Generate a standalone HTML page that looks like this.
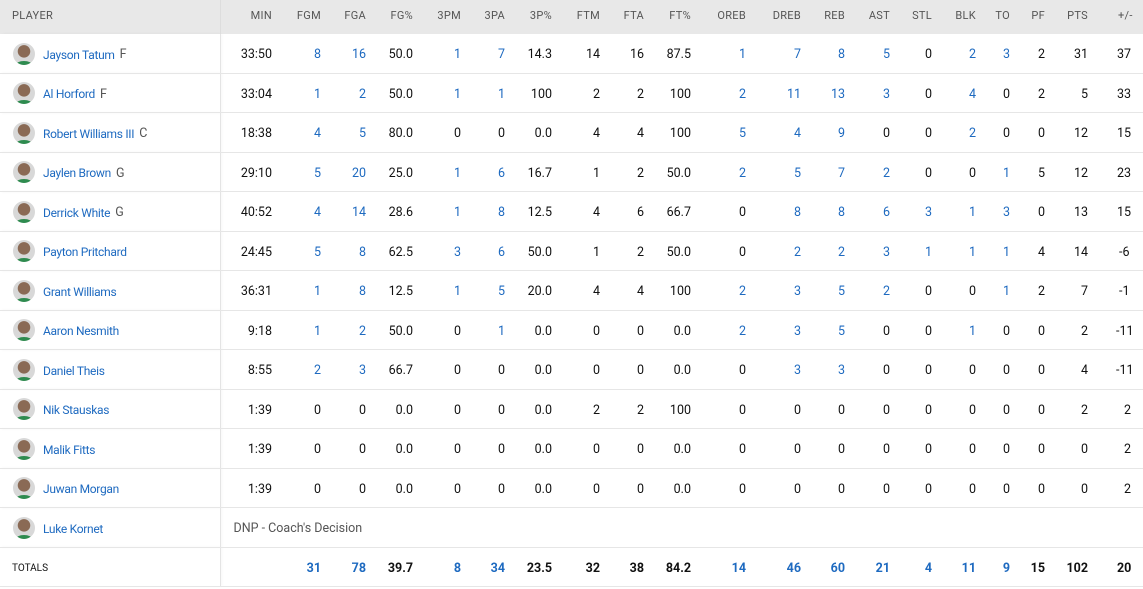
<!DOCTYPE html>
<html><head><meta charset="utf-8"><style>
body{margin:0;background:#fff;font-family:"Roboto","Liberation Sans",sans-serif;}
table{border-collapse:collapse;table-layout:fixed;width:1143px;font-size:12.5px;color:#111;}
th{background:#e8e8e8;height:34px;font-weight:normal;font-size:11px;color:#555;text-align:right;letter-spacing:.3px;padding:0 0 4px 0;box-sizing:border-box;}
th.p{text-align:left;padding-left:12px;border-right:1px solid #ddd;}
td{height:35.5px;text-align:right;padding:3px 0 0 0;border-bottom:1px solid #e6e6e6;}
td.p{text-align:left;border-right:1px solid #e4e4e4;box-shadow:2px 0 3px rgba(0,0,0,.04);white-space:nowrap;}
.av{display:inline-block;width:22px;height:22px;border-radius:50%;background:radial-gradient(circle at 50% 38%,#8a6a55 0 6px,#d8d8d8 6.5px);vertical-align:middle;margin:-2px 7px 0 13px;position:relative;overflow:hidden}
.av:after{content:"";position:absolute;left:3px;right:3px;bottom:-4px;height:8px;border-radius:50%;background:#2e8b4f}
.n{color:#1e6ac0;font-size:12px;letter-spacing:-0.3px;vertical-align:middle;margin-left:1px}
.pos{color:#555;margin-left:5px;vertical-align:middle}
.b{color:#1e6ac0}
tr.t td{font-weight:bold;height:35px}
tr.t td.p{font-size:10px;font-weight:normal;padding-left:12px}
td.dnp{text-align:left;padding-left:13px;color:#555}
</style></head><body>
<table>
<colgroup><col style="width:220px"><col style="width:52px"><col style="width:49px"><col style="width:45px"><col style="width:47px"><col style="width:48px"><col style="width:44px"><col style="width:47px"><col style="width:48px"><col style="width:44px"><col style="width:47px"><col style="width:55px"><col style="width:55px"><col style="width:44px"><col style="width:45px"><col style="width:42px"><col style="width:44px"><col style="width:34px"><col style="width:35px"><col style="width:43px"><col style="width:55px;"></colgroup>
<tr><th class="p">PLAYER</th><th>MIN</th><th>FGM</th><th>FGA</th><th>FG%</th><th>3PM</th><th>3PA</th><th>3P%</th><th>FTM</th><th>FTA</th><th>FT%</th><th>OREB</th><th>DREB</th><th>REB</th><th>AST</th><th>STL</th><th>BLK</th><th>TO</th><th>PF</th><th>PTS</th><th style="text-align:left;padding-left:30px">+/-</th></tr>
<tr><td class="p"><span class="av"></span><span class="n">Jayson Tatum</span><span class="pos">F</span></td><td>33:50</td><td class="b">8</td><td class="b">16</td><td>50.0</td><td class="b">1</td><td class="b">7</td><td>14.3</td><td>14</td><td>16</td><td>87.5</td><td class="b">1</td><td class="b">7</td><td class="b">8</td><td class="b">5</td><td>0</td><td class="b">2</td><td class="b">3</td><td>2</td><td>31</td><td style="text-align:left;padding-left:29px">37</td></tr>
<tr><td class="p"><span class="av"></span><span class="n">Al Horford</span><span class="pos">F</span></td><td>33:04</td><td class="b">1</td><td class="b">2</td><td>50.0</td><td class="b">1</td><td class="b">1</td><td>100</td><td>2</td><td>2</td><td>100</td><td class="b">2</td><td class="b">11</td><td class="b">13</td><td class="b">3</td><td>0</td><td class="b">4</td><td>0</td><td>2</td><td>5</td><td style="text-align:left;padding-left:29px">33</td></tr>
<tr><td class="p"><span class="av"></span><span class="n">Robert Williams III</span><span class="pos">C</span></td><td>18:38</td><td class="b">4</td><td class="b">5</td><td>80.0</td><td>0</td><td>0</td><td>0.0</td><td>4</td><td>4</td><td>100</td><td class="b">5</td><td class="b">4</td><td class="b">9</td><td>0</td><td>0</td><td class="b">2</td><td>0</td><td>0</td><td>12</td><td style="text-align:left;padding-left:29px">15</td></tr>
<tr><td class="p"><span class="av"></span><span class="n">Jaylen Brown</span><span class="pos">G</span></td><td>29:10</td><td class="b">5</td><td class="b">20</td><td>25.0</td><td class="b">1</td><td class="b">6</td><td>16.7</td><td>1</td><td>2</td><td>50.0</td><td class="b">2</td><td class="b">5</td><td class="b">7</td><td class="b">2</td><td>0</td><td>0</td><td class="b">1</td><td>5</td><td>12</td><td style="text-align:left;padding-left:29px">23</td></tr>
<tr><td class="p"><span class="av"></span><span class="n">Derrick White</span><span class="pos">G</span></td><td>40:52</td><td class="b">4</td><td class="b">14</td><td>28.6</td><td class="b">1</td><td class="b">8</td><td>12.5</td><td>4</td><td>6</td><td>66.7</td><td>0</td><td class="b">8</td><td class="b">8</td><td class="b">6</td><td class="b">3</td><td class="b">1</td><td class="b">3</td><td>0</td><td>13</td><td style="text-align:left;padding-left:29px">15</td></tr>
<tr><td class="p"><span class="av"></span><span class="n">Payton Pritchard</span></td><td>24:45</td><td class="b">5</td><td class="b">8</td><td>62.5</td><td class="b">3</td><td class="b">6</td><td>50.0</td><td>1</td><td>2</td><td>50.0</td><td>0</td><td class="b">2</td><td class="b">2</td><td class="b">3</td><td class="b">1</td><td class="b">1</td><td class="b">1</td><td>4</td><td>14</td><td style="text-align:left;padding-left:31px">-6</td></tr>
<tr><td class="p"><span class="av"></span><span class="n">Grant Williams</span></td><td>36:31</td><td class="b">1</td><td class="b">8</td><td>12.5</td><td class="b">1</td><td class="b">5</td><td>20.0</td><td>4</td><td>4</td><td>100</td><td class="b">2</td><td class="b">3</td><td class="b">5</td><td class="b">2</td><td>0</td><td>0</td><td class="b">1</td><td>2</td><td>7</td><td style="text-align:left;padding-left:31px">-1</td></tr>
<tr><td class="p"><span class="av"></span><span class="n">Aaron Nesmith</span></td><td>9:18</td><td class="b">1</td><td class="b">2</td><td>50.0</td><td>0</td><td class="b">1</td><td>0.0</td><td>0</td><td>0</td><td>0.0</td><td class="b">2</td><td class="b">3</td><td class="b">5</td><td>0</td><td>0</td><td class="b">1</td><td>0</td><td>0</td><td>2</td><td style="text-align:left;padding-left:28px">-11</td></tr>
<tr><td class="p"><span class="av"></span><span class="n">Daniel Theis</span></td><td>8:55</td><td class="b">2</td><td class="b">3</td><td>66.7</td><td>0</td><td>0</td><td>0.0</td><td>0</td><td>0</td><td>0.0</td><td>0</td><td class="b">3</td><td class="b">3</td><td>0</td><td>0</td><td>0</td><td>0</td><td>0</td><td>4</td><td style="text-align:left;padding-left:28px">-11</td></tr>
<tr><td class="p"><span class="av"></span><span class="n">Nik Stauskas</span></td><td>1:39</td><td>0</td><td>0</td><td>0.0</td><td>0</td><td>0</td><td>0.0</td><td>2</td><td>2</td><td>100</td><td>0</td><td>0</td><td>0</td><td>0</td><td>0</td><td>0</td><td>0</td><td>0</td><td>2</td><td style="text-align:left;padding-left:36px">2</td></tr>
<tr><td class="p"><span class="av"></span><span class="n">Malik Fitts</span></td><td>1:39</td><td>0</td><td>0</td><td>0.0</td><td>0</td><td>0</td><td>0.0</td><td>0</td><td>0</td><td>0.0</td><td>0</td><td>0</td><td>0</td><td>0</td><td>0</td><td>0</td><td>0</td><td>0</td><td>0</td><td style="text-align:left;padding-left:36px">2</td></tr>
<tr><td class="p"><span class="av"></span><span class="n">Juwan Morgan</span></td><td>1:39</td><td>0</td><td>0</td><td>0.0</td><td>0</td><td>0</td><td>0.0</td><td>0</td><td>0</td><td>0.0</td><td>0</td><td>0</td><td>0</td><td>0</td><td>0</td><td>0</td><td>0</td><td>0</td><td>0</td><td style="text-align:left;padding-left:36px">2</td></tr>
<tr><td class="p"><span class="av"></span><span class="n">Luke Kornet</span></td><td class="dnp" colspan="20">DNP - Coach's Decision</td></tr>
<tr class="t"><td class="p">TOTALS</td><td></td><td class="b">31</td><td class="b">78</td><td>39.7</td><td class="b">8</td><td class="b">34</td><td>23.5</td><td>32</td><td>38</td><td>84.2</td><td class="b">14</td><td class="b">46</td><td class="b">60</td><td class="b">21</td><td class="b">4</td><td class="b">11</td><td class="b">9</td><td>15</td><td>102</td><td style="text-align:left;padding-left:29px">20</td></tr>
</table>
</body></html>
